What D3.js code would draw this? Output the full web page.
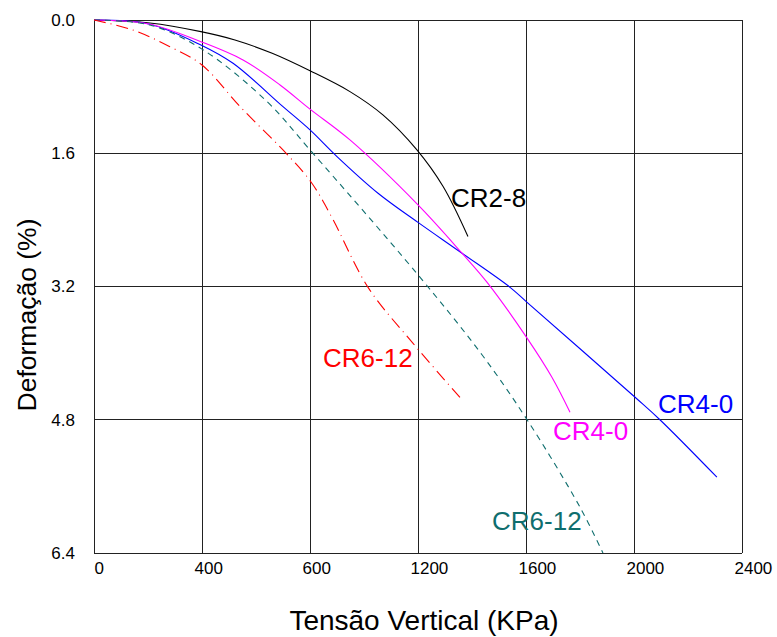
<!DOCTYPE html>
<html><head><meta charset="utf-8">
<script src="https://cdn.jsdelivr.net/npm/d3@7"></script>
<style>body{margin:0;background:#fff}</style>
</head><body>
<script>
const xTickValues = [0, 400, 800, 1200, 1600, 2000, 2400];
const xTickLabels = ["0", "400", "600", "1200", "1600", "2000", "2400"];
const yTickValues = [0, 1.6, 3.2, 4.8, 6.4];
const yTickLabels = ["0.0", "1.6", "3.2", "4.8", "6.4"];

const cr28 = [[0,0],[207,0.036],[396,0.14],[522,0.24],[660,0.40],[800,0.61],[948,0.86],[1070,1.14],[1196,1.56],[1293,2.0],[1385,2.6]];
const cr40blue = [[0,0],[207,0.05],[396,0.30],[515,0.52],[700,1.04],[800,1.32],[900,1.64],[1052,2.08],[1200,2.43],[1363,2.80],[1541,3.21],[1604,3.39],[2004,4.53],[2096,4.80],[2307,5.49]];
const cr40mag = [[0,0],[207,0.05],[396,0.26],[552,0.48],[689,0.78],[800,1.07],[948,1.44],[1200,2.22],[1363,2.80],[1456,3.15],[1604,3.82],[1696,4.29],[1763,4.71]];
const cr612teal = [[0,0],[207,0.06],[400,0.35],[641,0.98],[800,1.56],[1200,3.06],[1437,4.02],[1604,4.80],[1800,5.85],[1885,6.40]];
const cr612red = [[0,0],[144,0.12],[281,0.32],[400,0.54],[541,1.04],[726,1.65],[807,1.96],[881,2.37],[1015,3.21],[1181,3.88],[1363,4.56]];

const series = [
  {name:"CR2-8", data:cr28, color:"#000000", dash:null, lx:451, ly:207},
  {name:"CR4-0", data:cr40blue, color:"#0000ff", dash:null, lx:658, ly:413},
  {name:"CR4-0", data:cr40mag, color:"#ff00ff", dash:null, lx:553, ly:440},
  {name:"CR6-12", data:cr612teal, color:"#0f6e6e", dash:"6,5", lx:492, ly:530},
  {name:"CR6-12", data:cr612red, color:"#ff0000", dash:"12,5,1,5", lx:323, ly:367}
];

const W = 777, H = 637;
const svg = d3.select("body").append("svg").attr("width", W).attr("height", H);
const x = d3.scaleLinear().domain([0, 2400]).range([94, 742]);
const y = d3.scaleLinear().domain([0, 6.4]).range([20, 553]);
const FONT = "Arial, 'Liberation Sans', sans-serif";

const g = svg.append("g");
g.selectAll(".vg").data(xTickValues).enter().append("line")
  .attr("x1", d => x(d)).attr("x2", d => x(d)).attr("y1", y(0)).attr("y2", y(6.4))
  .attr("stroke", "#222").attr("stroke-width", 1).attr("shape-rendering","crispEdges");
g.selectAll(".hg").data(yTickValues).enter().append("line")
  .attr("x1", x(0)).attr("x2", x(2400)).attr("y1", d => y(d)).attr("y2", d => y(d))
  .attr("stroke", "#222").attr("stroke-width", 1).attr("shape-rendering","crispEdges");

const xAxis = d3.axisBottom(x).tickValues(xTickValues).tickFormat((d,i) => xTickLabels[i]).tickSize(0).tickPadding(9);
const yAxis = d3.axisLeft(y).tickValues(yTickValues).tickFormat((d,i) => yTickLabels[i]).tickSize(0).tickPadding(19);
const xa = svg.append("g").attr("transform", `translate(0,${y(6.4)})`).call(xAxis);
const ya = svg.append("g").attr("transform", `translate(${x(0)},0)`).call(yAxis);
[xa, ya].forEach(a => {
  a.select(".domain").remove();
  a.selectAll("text").attr("font-family", FONT).attr("font-size", 17).attr("fill", "#000");
});
xa.selectAll("text").attr("text-anchor", "start").attr("dx", (d,i) => xTickLabels[i].length > 1 ? -8 : 0);

const line = d3.line().x(d => x(d[0])).y(d => y(d[1])).curve(d3.curveCatmullRom.alpha(0.5));
series.forEach(s => {
  svg.append("path").attr("d", line(s.data)).attr("fill", "none")
    .attr("stroke", s.color).attr("stroke-width", 1.1)
    .attr("stroke-dasharray", s.dash);
  svg.append("text").attr("x", s.lx).attr("y", s.ly).text(s.name)
    .attr("font-family", FONT).attr("font-size", 26).attr("fill", s.color);
});

svg.append("text").attr("x", 424).attr("y", 630).attr("text-anchor", "middle")
  .attr("font-family", FONT).attr("font-size", 28)
  .text("Tensão Vertical (KPa)");
svg.append("text").attr("transform", "translate(36,315) rotate(-90)").attr("text-anchor", "middle")
  .attr("font-family", FONT).attr("font-size", 26.5)
  .text("Deformação (%)");
</script>
</body></html>
